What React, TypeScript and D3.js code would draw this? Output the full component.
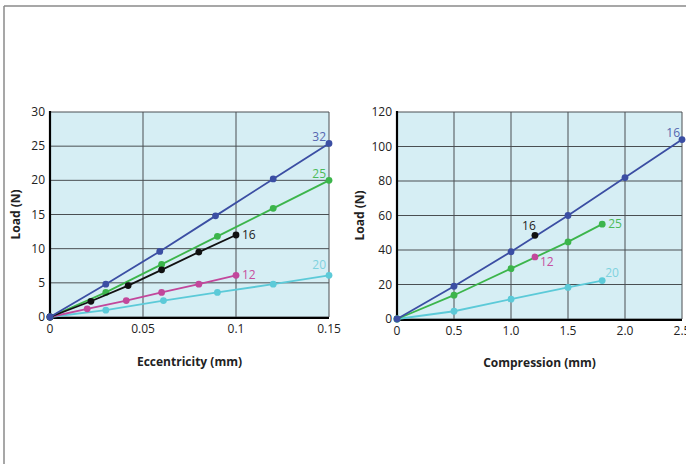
import React from "react";
import * as d3 from "d3";

// ---------- DATA ----------
// Left panel: Load (N) vs Eccentricity (mm)
const eccTicksX = [0, 0.05, 0.1, 0.15];
const eccTickLabelsX = ["0", "0.05", "0.1", "0.15"];
const eccTicksY = [0, 5, 10, 15, 20, 25, 30];

const ecc32: [number, number][] = [[0, 0], [0.03, 4.8], [0.059, 9.6], [0.089, 14.8], [0.12, 20.2], [0.15, 25.4]];
const ecc25: [number, number][] = [[0, 0], [0.03, 3.6], [0.06, 7.7], [0.09, 11.8], [0.12, 15.9], [0.15, 20.0]];
const ecc16: [number, number][] = [[0, 0], [0.022, 2.3], [0.042, 4.6], [0.06, 6.9], [0.08, 9.5], [0.1, 12.0]];
const ecc12: [number, number][] = [[0, 0], [0.02, 1.2], [0.041, 2.4], [0.06, 3.6], [0.08, 4.8], [0.1, 6.1]];
const ecc20: [number, number][] = [[0, 0], [0.03, 1.0], [0.061, 2.4], [0.09, 3.6], [0.12, 4.8], [0.15, 6.1]];

// Right panel: Load (N) vs Compression (mm)
const comTicksX = [0, 0.5, 1.0, 1.5, 2.0, 2.5];
const comTickLabelsX = ["0", "0.5", "1.0", "1.5", "2.0", "2.5"];
const comTicksY = [0, 20, 40, 60, 80, 100, 120];

const com16: [number, number][] = [[0, 0], [0.5, 19], [1.0, 39], [1.5, 60], [2.0, 82], [2.5, 104]];
const com25: [number, number][] = [[0, 0], [0.5, 13.8], [1.0, 29.2], [1.5, 44.7], [1.8, 55]];
const com20: [number, number][] = [[0, 0], [0.5, 4.5], [1.0, 11.5], [1.5, 18.3], [1.8, 22.3]];
const com16b: [number, number][] = [[1.21, 48.5]];
const com12: [number, number][] = [[1.21, 36]];

// ---------- STYLES ----------
const C_BLUE = "#3b4ea3";
const C_GREEN = "#3cb54b";
const C_BLACK = "#111111";
const C_MAG = "#c2479b";
const C_CYAN = "#5ccad8";

type Series = {
  data: [number, number][];
  color: string;
  label: string;
  labelColor: string;
  dx: number;
  dy: number;
  anchor: "start" | "middle" | "end";
};

const leftSeries: Series[] = [
  { data: ecc20, color: C_CYAN, label: "20", labelColor: "#7fd2de", dx: -3, dy: -6, anchor: "end" },
  { data: ecc12, color: C_MAG, label: "12", labelColor: "#c64fa0", dx: 6, dy: 4, anchor: "start" },
  { data: ecc25, color: C_GREEN, label: "25", labelColor: "#4cbb5a", dx: -3, dy: -2, anchor: "end" },
  { data: ecc16, color: C_BLACK, label: "16", labelColor: "#222", dx: 6, dy: 4, anchor: "start" },
  { data: ecc32, color: C_BLUE, label: "32", labelColor: "#5566b0", dx: -3, dy: -2, anchor: "end" },
];

const rightSeries: Series[] = [
  { data: com20, color: C_CYAN, label: "20", labelColor: "#7fd2de", dx: 3, dy: -4, anchor: "start" },
  { data: com25, color: C_GREEN, label: "25", labelColor: "#4cbb5a", dx: 6, dy: 4, anchor: "start" },
  { data: com16, color: C_BLUE, label: "16", labelColor: "#5566b0", dx: -2, dy: -3, anchor: "end" },
  { data: com12, color: C_MAG, label: "12", labelColor: "#c64fa0", dx: 5, dy: 9, anchor: "start" },
  { data: com16b, color: C_BLACK, label: "16", labelColor: "#222", dx: -6, dy: -5, anchor: "middle" },
];

const FONT = "'Open Sans', 'DejaVu Sans', sans-serif";

type PanelProps = {
  xDomain: [number, number];
  yDomain: [number, number];
  xRange: [number, number];
  yRange: [number, number];
  xTicks: number[];
  xTickLabels: string[];
  yTicks: number[];
  series: Series[];
  xTitle: string;
  yTitle: string;
  yTitleX: number;
  xTitleY: number;
};

function Panel(p: PanelProps) {
  const x = d3.scaleLinear().domain(p.xDomain).range(p.xRange);
  const y = d3.scaleLinear().domain(p.yDomain).range(p.yRange);
  const line = d3
    .line<[number, number]>()
    .x((d) => x(d[0]))
    .y((d) => y(d[1]));
  const [x0, x1] = p.xRange;
  const [yb, yt] = p.yRange;
  return (
    <g>
      <rect x={x0} y={yt} width={x1 - x0} height={yb - yt} fill="#d6eef4" />
      {p.xTicks.map((t, i) => (
        <line key={"gx" + i} x1={x(t)} x2={x(t)} y1={yt} y2={yb} stroke="#4a4f52" strokeWidth={1} />
      ))}
      {p.yTicks.map((t, i) => (
        <line key={"gy" + i} x1={x0} x2={x1} y1={y(t)} y2={y(t)} stroke="#4a4f52" strokeWidth={1} />
      ))}
      {/* axes */}
      <line x1={x0} x2={x0} y1={yt - 1} y2={yb + 1} stroke="#000" strokeWidth={2.2} />
      <line x1={x0 - 1} x2={x1} y1={yb + 1} y2={yb + 1} stroke="#000" strokeWidth={2.2} />
      {p.xTicks.map((t, i) => (
        <text key={"tx" + i} x={x(t)} y={yb + 16} textAnchor="middle" fontSize={12} fill="#222" fontFamily={FONT}>
          {p.xTickLabels[i]}
        </text>
      ))}
      {p.yTicks.map((t, i) => (
        <text key={"ty" + i} x={x0 - 5} y={y(t) + 4} textAnchor="end" fontSize={12} fill="#222" fontFamily={FONT}>
          {t}
        </text>
      ))}
      {p.series.map((s, i) => (
        <g key={"s" + i}>
          {s.data.length > 1 && (
            <path d={line(s.data) || ""} fill="none" stroke={s.color} strokeWidth={1.8} />
          )}
          {s.data.map((d, j) => (
            <circle key={j} cx={x(d[0])} cy={y(d[1])} r={3.4} fill={s.color} />
          ))}
          <text
            x={x(s.data[s.data.length - 1][0]) + s.dx}
            y={y(s.data[s.data.length - 1][1]) + s.dy}
            textAnchor={s.anchor}
            fontSize={12}
            fill={s.labelColor}
            fontFamily={FONT}
          >
            {s.label}
          </text>
        </g>
      ))}
      <text
        x={(x0 + x1) / 2}
        y={p.xTitleY}
        textAnchor="middle"
        fontSize={12}
        fontWeight={700}
        fill="#222"
        fontFamily={FONT}
      >
        {p.xTitle}
      </text>
      <text
        transform={`translate(${p.yTitleX},${(yb + yt) / 2}) rotate(-90)`}
        textAnchor="middle"
        dominantBaseline="middle"
        fontSize={12}
        fontWeight={700}
        fill="#222"
        fontFamily={FONT}
      >
        {p.yTitle}
      </text>
    </g>
  );
}

export default function App() {
  return (
    <svg
      width={686}
      height={464}
      style={{ position: "absolute", left: 0, top: 0, background: "#fff" }}
    >
      <line x1={4} x2={686} y1={6} y2={6} stroke="#8a8a8a" strokeWidth={1.5} />
      <line x1={4} x2={4} y1={6} y2={464} stroke="#8a8a8a" strokeWidth={1.5} />
      <Panel
        xDomain={[0, 0.15]}
        yDomain={[0, 30]}
        xRange={[50, 329]}
        yRange={[317, 112]}
        xTicks={eccTicksX}
        xTickLabels={eccTickLabelsX}
        yTicks={eccTicksY}
        series={leftSeries}
        xTitle="Eccentricity (mm)"
        yTitle="Load (N)"
        yTitleX={17}
        xTitleY={366}
      />
      <Panel
        xDomain={[0, 2.5]}
        yDomain={[0, 120]}
        xRange={[397, 682]}
        yRange={[319, 112]}
        xTicks={comTicksX}
        xTickLabels={comTickLabelsX}
        yTicks={comTicksY}
        series={rightSeries}
        xTitle="Compression (mm)"
        yTitle="Load (N)"
        yTitleX={361}
        xTitleY={367}
      />
    </svg>
  );
}
